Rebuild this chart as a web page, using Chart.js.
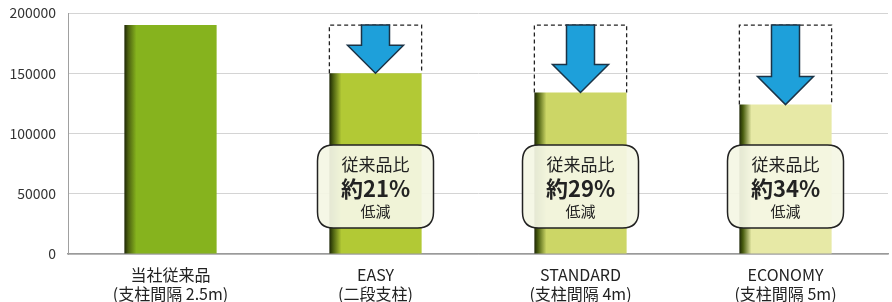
<!DOCTYPE html>
<html>
<head>
<meta charset="utf-8">
<script src="https://cdn.jsdelivr.net/npm/chart.js@4/dist/chart.umd.min.js"></script>
<style>
  html, body { margin: 0; padding: 0; background: #fff; }
  #wrap { width: 892px; height: 302px; }
</style>
</head>
<body>
<div id="wrap"><canvas id="chart"></canvas></div>
<script>
// データ
const categories = [
    ['当社従来品', '(支柱間隔 2.5m)'],
    ['EASY', '(二段支柱)'],
    ['STANDARD', '(支柱間隔 4m)'],
    ['ECONOMY', '(支柱間隔 5m)']
];
const values = [190000, 150000, 134000, 124000]; // 棒の高さ
const reductions = [null, '21%', '29%', '34%']; // 従来品比の低減率
const yTicks = [0, 50000, 100000, 150000, 200000];

const barColors = ['#86b31e', '#b2c935', '#ccd666', '#e7e9a6'];
const FONT = '"Noto Sans CJK JP", "Noto Sans", sans-serif';

// 棒の横グラデーション (左端を暗く)
function barFill(ctx) {
    const chart = ctx.chart;
    const c = barColors[ctx.dataIndex];
    const xs = chart.scales.x;
    if (!chart.chartArea || !xs) return c;
    const cx = xs.getPixelForValue(ctx.dataIndex);
    const w = (chart.chartArea.width / categories.length) * 0.45;
    if (!isFinite(cx) || !isFinite(w)) return c;
    const left = cx - w / 2;
    const g = chart.ctx.createLinearGradient(left, 0, left + w, 0);
    g.addColorStop(0, '#1d2605');
    g.addColorStop(0.04, '#4a5e10');
    g.addColorStop(0.13, c);
    g.addColorStop(1, c);
    return g;
}

function roundRect(c, x, y, w, h, r) {
    c.beginPath();
    c.moveTo(x + r, y);
    c.lineTo(x + w - r, y);
    c.quadraticCurveTo(x + w, y, x + w, y + r);
    c.lineTo(x + w, y + h - r);
    c.quadraticCurveTo(x + w, y + h, x + w - r, y + h);
    c.lineTo(x + r, y + h);
    c.quadraticCurveTo(x, y + h, x, y + h - r);
    c.lineTo(x, y + r);
    c.quadraticCurveTo(x, y, x + r, y);
    c.closePath();
}

// 破線の枠・矢印・吹き出しを描く
const annotations = {
    id: 'annotations',
    afterDatasetsDraw(chart) {
        const c = chart.ctx;
        const meta = chart.getDatasetMeta(0);
        const yScale = chart.scales.y;
        const topY = yScale.getPixelForValue(values[0]);
        meta.data.forEach((bar, i) => {
            if (!reductions[i]) return;
            const w = bar.width;
            const left = bar.x - w / 2;
            // 破線の枠
            c.save();
            c.strokeStyle = '#222';
            c.lineWidth = 1.3;
            c.setLineDash([4, 3]);
            c.beginPath();
            c.moveTo(left, bar.y);
            c.lineTo(left, topY);
            c.lineTo(left + w, topY);
            c.lineTo(left + w, bar.y);
            c.stroke();
            c.restore();

            // 矢印
            const shaft = 14, head = 28, headH = 28;
            const tip = bar.y;
            c.save();
            c.beginPath();
            c.moveTo(bar.x - shaft, topY);
            c.lineTo(bar.x + shaft, topY);
            c.lineTo(bar.x + shaft, tip - headH);
            c.lineTo(bar.x + head, tip - headH);
            c.lineTo(bar.x, tip);
            c.lineTo(bar.x - head, tip - headH);
            c.lineTo(bar.x - shaft, tip - headH);
            c.closePath();
            c.fillStyle = '#1ea0da';
            c.fill();
            c.strokeStyle = '#1b3346';
            c.lineWidth = 1.5;
            c.stroke();
            c.restore();

            // 吹き出し
            const bw = 116, bh = 83;
            const cy = yScale.getPixelForValue(56000);
            c.save();
            roundRect(c, bar.x - bw / 2, cy - bh / 2, bw, bh, 16);
            c.fillStyle = 'rgba(244,246,228,0.93)';
            c.fill();
            c.strokeStyle = '#222';
            c.lineWidth = 1.5;
            c.stroke();
            c.fillStyle = '#222';
            c.textAlign = 'center';
            c.textBaseline = 'middle';
            c.font = '17px ' + FONT;
            c.fillText('従来品比', bar.x, cy - 22);
            c.font = 'bold 22px ' + FONT;
            c.fillText('約' + reductions[i], bar.x, cy + 2);
            c.font = '15px ' + FONT;
            c.fillText('低減', bar.x, cy + 25);
            c.restore();
        });
    }
};

const ctx = document.getElementById('chart');
new Chart(ctx, {
    type: 'bar',
    data: {
        labels: categories,
        datasets: [{
            data: values,
            backgroundColor: barFill,
            borderWidth: 0,
            barPercentage: 0.9,
            categoryPercentage: 0.5
        }]
    },
    options: {
        responsive: true,
        maintainAspectRatio: false,
        animation: false,
        layout: { padding: { top: 13, right: 4, left: 0, bottom: 0 } },
        plugins: {
            legend: { display: false },
            tooltip: { enabled: false }
        },
        scales: {
            x: {
                grid: { display: false },
                border: { color: '#9a9a9a', width: 1.5 },
                ticks: {
                    color: '#222',
                    font: { family: FONT, size: 16, lineHeight: 1.2 },
                    padding: 3
                },
                afterFit: s => { s.height = 48; }
            },
            y: {
                min: 0,
                max: 200000,
                afterBuildTicks: s => { s.ticks = yTicks.map(v => ({ value: v })); },
                grid: { color: '#d4d4d4', drawTicks: false },
                border: { color: '#a0a0a0' },
                ticks: {
                    color: '#333',
                    font: { family: FONT, size: 14 },
                    padding: 12,
                    callback: v => String(v)
                },
                afterFit: s => { s.width = 68; s.paddingTop = 0; s.paddingBottom = 0; }
            }
        }
    },
    plugins: [annotations]
});
</script>
</body>
</html>
